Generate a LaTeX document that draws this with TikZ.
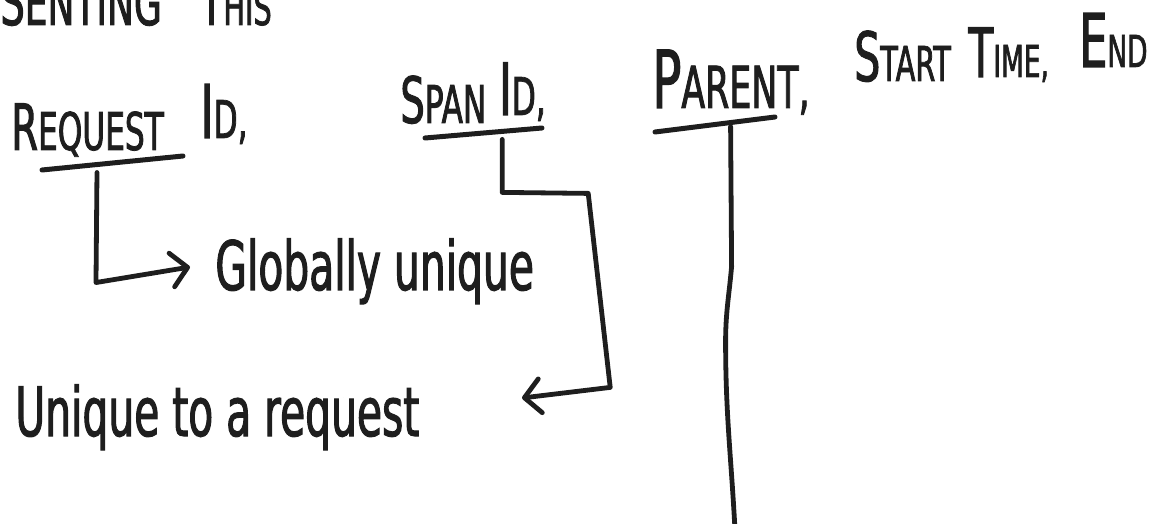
\documentclass[tikz,border=0pt]{standalone}
\usepackage{fontspec}
\setmainfont{DejaVu Sans}
\newfontfamily\hand[FakeStretch=0.6, FakeBold=1.5]{DejaVu Sans}
\usetikzlibrary{positioning, arrows.meta, calc}

\definecolor{ink}{HTML}{1E1E1E}
% quick font size switch (size = leading)
\newcommand{\sz}[1]{\fontsize{#1}{#1}\selectfont}

\begin{document}
\begin{tikzpicture}[x=0.5pt, y=-0.5pt,
  lbl/.style={font=\hand, text=ink, inner sep=0pt, anchor=base west},
  note/.style={lbl, font=\hand\sz{34}},
  bar/.style={draw=ink, line width=2.5pt, line cap=round},
  link/.style={draw=ink, line width=2.4pt, line cap=round, line join=round},
  hook/.style={-{Straight Barb[length=8pt, width=17pt, round]}}]
  \useasboundingbox (0,0) rectangle (1158,524);
  \clip (0,0) rectangle (1158,524);

  % line cut off at the top
  \node[lbl] (head) at (0,25) {{\sz{32}S}\sz{30}ENTING\hspace{19pt}{\sz{32}T}\sz{24}HIS};

  % span fields
  \node[lbl] (req) at (11,150) {{\sz{32}R}\sz{26}EQUEST};
  \node[lbl, base right=18pt of req, yshift=6pt] (reqid) {{\sz{37}I}\sz{26}D,};
  \node[lbl] (span) at (400,123) {{\sz{32}S}\sz{26}PAN};
  \node[lbl, base right=6pt of span, yshift=4pt] (spanid) {{\sz{36}I}\sz{26}D,};
  \node[lbl] (parent) at (652,108) {{\sz{40}P}\sz{29}ARENT,};
  \node[lbl] (start) at (854,81) {{\sz{34}S}\sz{24}TART};
  \node[lbl] (time) at (968,77) {{\sz{34}T}\sz{22}IME,};
  \node[lbl] (end) at (1079,67) {{\sz{37}E}\sz{22}ND};

  % notes
  \node[note] (glob) at (215,290) {Globally unique};
  \node[note] (uniq) at (15,436) {Unique to a request};

  % underlines
  \coordinate (reqa) at (42,170);    \coordinate (reqb) at (183,156);
  \coordinate (spana) at (425,138);  \coordinate (spanb) at (542,128);
  \coordinate (para) at (655,132);   \coordinate (parb) at (775,117);
  \draw[bar] (reqa) -- (reqb);
  \draw[bar] (spana) -- (spanb);
  \draw[bar] (para) -- (parb);
  \coordinate (reqdrop) at ($(reqa)!0.39!(reqb)$);
  \coordinate (spandrop) at ($(spana)!0.66!(spanb)$);
  \coordinate (pardrop) at ($(para)!0.63!(parb)$);
  \coordinate (parend) at (735,530);

  % connectors
  \draw[link, hook] ([yshift=-4pt]reqdrop) -- ++(-1,110) coordinate (reqbend)
    -- ($(glob.base west)+(-25,-23)$);
  \draw[link, hook] ([yshift=-4pt]spandrop) -- ++(0,53) -- ++(86,1)
    -- ++(22,194) -- ($(uniq.base west)+(507,-38)$);
  \draw[link] ([yshift=-2pt]pardrop) -- ++(1,140) to[out=-95, in=90] ++(-6,75)
    to[out=-90, in=93] (parend);
\end{tikzpicture}
\end{document}
